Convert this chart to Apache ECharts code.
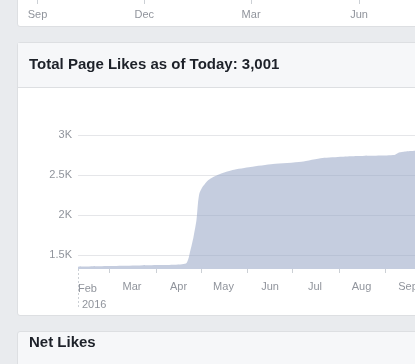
<!DOCTYPE html>
<html><head><meta charset="utf-8">
<script src="https://cdn.jsdelivr.net/npm/echarts@6/dist/echarts.min.js"></script>
<style>
html,body{margin:0;padding:0;width:415px;height:364px;overflow:hidden;background:#e9ebee;}
.panel{position:absolute;left:17px;width:440px;background:#fff;border:1px solid #dddfe2;border-radius:3px;box-sizing:border-box;}
.hdr{position:absolute;left:0;top:0;right:0;height:44px;background:#f6f7f9;border-bottom:1px solid #dddfe2;}
#chart{position:absolute;left:0;top:0;width:415px;height:364px;}
</style></head><body>
<div class="panel" style="top:-10px;height:37px"></div>
<div class="panel" style="top:42px;height:274px"><div class="hdr"></div></div>
<div class="panel" style="top:331px;height:60px;background:#f6f7f9"></div>
<div id="chart"></div>
<script>
// ---- data ----
var titleText = 'Total Page Likes as of Today: 3,001';
var nextTitle = 'Net Likes';
var dates = ['2016-02-09','2016-03-01','2016-04-01','2016-04-21','2016-04-24','2016-04-26','2016-04-28','2016-04-29','2016-04-30','2016-05-02','2016-05-06','2016-05-12','2016-05-22','2016-06-03','2016-06-18','2016-07-07','2016-07-21','2016-08-03','2016-08-13','2016-09-07','2016-09-10','2016-09-14','2016-09-21'];
var likes = [1354,1362,1375,1395,1562,1725,1937,2150,2275,2350,2437,2500,2562,2600,2637,2666,2712,2728,2737,2750,2780,2795,2805];
var monthNames = ['Jan','Feb','Mar','Apr','May','Jun','Jul','Aug','Sep','Oct','Nov','Dec'];
var yTicks = [1500,2000,2500,3000];
var monthStarts = ['2016-03-01','2016-04-01','2016-05-01','2016-06-01','2016-07-01','2016-08-01','2016-09-01','2016-10-01'];
var monthMids = ['2016-03-16','2016-04-16','2016-05-16','2016-06-16','2016-07-16','2016-08-16','2016-09-16'];
var firstLabel = ['Feb','2016'];
var topTicks = ['2015-09-01','2015-12-01','2016-03-01','2016-06-01'];

function ts(s){var p=s.split('-');return new Date(+p[0],+p[1]-1,+p[2]).getTime();}
var DAY = 86400000;
var xMin = ts(dates[0]);
var xMax = xMin + 224.67*DAY;
var topMin = ts(topTicks[0]);
var topMax = topMin + 321.7*DAY;

var labelColor = '#90949c';
var font = '"Helvetica Neue", Helvetica, "Liberation Sans", Arial, sans-serif';
function monthFmt(v){return monthNames[new Date(v).getMonth()];}

var chart = echarts.init(document.getElementById('chart'), null, {renderer:'canvas'});
chart.setOption({
  backgroundColor: 'transparent',
  animation: false,
  title: [
    {text: titleText, left: 29, top: 56, padding: 0,
     textStyle: {fontFamily: font, fontSize: 15, fontWeight: 'bold', color: '#1d2129', lineHeight: 18}},
    {text: nextTitle, left: 29, top: 334, padding: 0,
     textStyle: {fontFamily: font, fontSize: 15, fontWeight: 'bold', color: '#1d2129', lineHeight: 18}}
  ],
  grid: [
    {left: 37.5, right: 0, top: -60, height: 60, containLabel: false, outerBoundsMode: 'none'},
    {left: 78, right: 0, top: 105, height: 164, containLabel: false, outerBoundsMode: 'none'}
  ],
  xAxis: [
    {gridIndex: 0, type: 'value', min: topMin, max: topMax,
     axisLine: {show: false}, splitLine: {show: false},
     axisTick: {show: true, length: 4, customValues: topTicks.map(ts), lineStyle: {color: '#ccd0d5'}},
     axisLabel: {customValues: topTicks.map(ts), margin: 9, color: labelColor, fontSize: 11, fontFamily: font,
       formatter: monthFmt}},
    {gridIndex: 1, type: 'value', min: xMin, max: xMax,
     axisLine: {show: false}, splitLine: {show: false},
     axisTick: {show: true, length: 4, customValues: monthStarts.map(ts), lineStyle: {color: '#ccd0d5'}},
     axisLabel: {customValues: monthMids.map(ts), margin: 12, color: labelColor, fontSize: 11, fontFamily: font,
       hideOverlap: false, formatter: monthFmt}},
    {gridIndex: 1, type: 'value', min: xMin, max: xMax, position: 'bottom',
     axisLine: {show: false}, splitLine: {show: false},
     axisTick: {show: true, length: 38, customValues: [xMin], lineStyle: {color: '#ccd0d5', type: [2,2]}},
     axisLabel: {customValues: [xMin], margin: 12, align: 'left', color: labelColor, fontSize: 11, fontFamily: font,
       lineHeight: 16,
       formatter: function(){return firstLabel[0] + '\n{y|' + firstLabel[1] + '}';},
       rich: {y: {padding: [0,0,0,4], color: labelColor, fontSize: 11, fontFamily: font, lineHeight: 16}}}}
  ],
  yAxis: [
    {gridIndex: 0, type: 'value', show: false},
    {gridIndex: 1, type: 'value', min: 1325, max: 3375,
     axisLine: {show: false},
     axisTick: {show: false, customValues: yTicks},
     splitLine: {show: true, lineStyle: {color: '#e5e6e9', width: 1}},
     axisLabel: {customValues: yTicks, margin: 6, color: labelColor, fontSize: 11, fontFamily: font,
       formatter: function(v){return (v/1000) + 'K';}}}
  ],
  series: [{
    type: 'line', xAxisIndex: 1, yAxisIndex: 1,
    data: dates.map(function(d,i){return [ts(d), likes[i]];}),
    showSymbol: false, smooth: 0.2,
    lineStyle: {width: 0, opacity: 0},
    areaStyle: {color: 'rgb(150,164,197)', opacity: 0.55}
  }]
});
</script>
</body></html>
